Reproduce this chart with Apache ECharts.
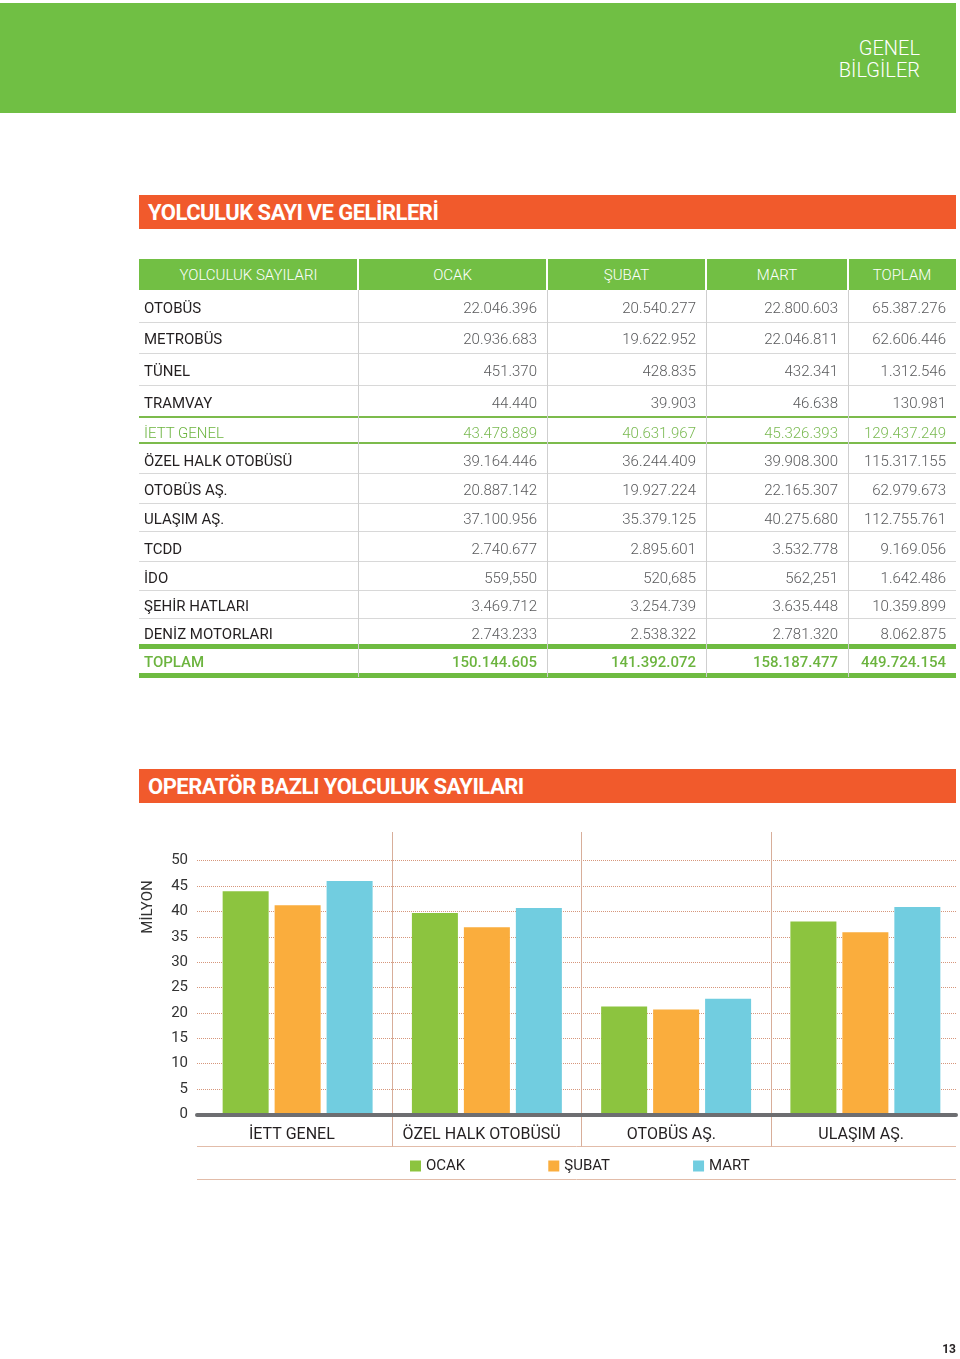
<!DOCTYPE html>
<html>
<head>
<meta charset="utf-8">
<script src="https://cdn.jsdelivr.net/npm/echarts@6/dist/echarts.min.js"></script>
<style>
  html, body { margin:0; padding:0; background:#fff; }
  body { width:960px; height:1359px; position:relative; overflow:hidden; font-family: Roboto, "Noto Sans", sans-serif; }
  #chart { position:absolute; left:0; top:0; width:960px; height:1359px; }
  .abs { position:absolute; }
  .hdr { left:0; top:3px; width:956px; height:110px; background:#70bf44; }
  .hdrtxt { right:40px; top:37px; color:#fff; font-weight:300; font-size:20px; line-height:22px; text-align:right; }
  .obar { left:139px; width:817px; height:34px; background:#f15a2c; color:#fff; font-weight:700; font-size:22px; line-height:36px; letter-spacing:-0.5px; box-sizing:border-box; padding-left:9px; }
  .cell { height:20px; line-height:20px; font-size:15px; white-space:nowrap; }
  .pg { right:4px; top:1342px; font-size:12px; font-weight:700; color:#231f20; }
</style>
</head>
<body>
<div id="chart"></div>
<div id="page"></div>
<script>
// ---------- DATA ----------
const pageTitle = ['GENEL', 'BİLGİLER'];
const tableTitle = 'YOLCULUK SAYI VE GELİRLERİ';
const chartTitle = 'OPERATÖR BAZLI YOLCULUK SAYILARI';
const tableHeaders = ['YOLCULUK SAYILARI', 'OCAK', 'ŞUBAT', 'MART', 'TOPLAM'];
const rowLabels = ['OTOBÜS','METROBÜS','TÜNEL','TRAMVAY','İETT GENEL','ÖZEL HALK OTOBÜSÜ','OTOBÜS AŞ.','ULAŞIM AŞ.','TCDD','İDO','ŞEHİR HATLARI','DENİZ MOTORLARI','TOPLAM'];
const ocakCol = ['22.046.396','20.936.683','451.370','44.440','43.478.889','39.164.446','20.887.142','37.100.956','2.740.677','559,550','3.469.712','2.743.233','150.144.605'];
const subatCol = ['20.540.277','19.622.952','428.835','39.903','40.631.967','36.244.409','19.927.224','35.379.125','2.895.601','520,685','3.254.739','2.538.322','141.392.072'];
const martCol = ['22.800.603','22.046.811','432.341','46.638','45.326.393','39.908.300','22.165.307','40.275.680','3.532.778','562,251','3.635.448','2.781.320','158.187.477'];
const toplamCol = ['65.387.276','62.606.446','1.312.546','130.981','129.437.249','115.317.155','62.979.673','112.755.761','9.169.056','1.642.486','10.359.899','8.062.875','449.724.154'];

const categories = ['İETT GENEL', 'ÖZEL HALK OTOBÜSÜ', 'OTOBÜS AŞ.', 'ULAŞIM AŞ.'];
const seriesNames = ['OCAK', 'ŞUBAT', 'MART'];
const barOcak = [44.0, 39.7, 21.3, 38.0];
const barSubat = [41.2, 36.9, 20.7, 35.9];
const barMart = [46.0, 40.7, 22.8, 40.9];
const yAxisName = 'MİLYON';
const yMin = 0, yMax = 50, yStep = 5;
const pageNumber = '13';

// ---------- PAGE (header + table) ----------
const page = document.getElementById('page');
function add(cls, style, text) {
  const d = document.createElement('div');
  d.className = 'abs ' + cls;
  Object.assign(d.style, style);
  if (text !== undefined) d.textContent = text;
  page.appendChild(d);
  return d;
}
add('hdr', {});
add('hdrtxt', {}).innerHTML = pageTitle.join('<br>');
add('obar', { top: '195px' }, tableTitle);
add('obar', { top: '769px' }, chartTitle);
add('pg', {}, pageNumber);

const colEdges = [139, 358, 547, 706, 848, 956];
const GREEN = '#72bf44';
// header row
add('', { left: '139px', top: '259px', width: '817px', height: '31px', background: GREEN });
tableHeaders.forEach((h, i) => {
  add('cell', { left: colEdges[i] + 'px', width: (colEdges[i+1] - colEdges[i]) + 'px', top: '264.5px',
    textAlign: 'center', color: '#fff', fontWeight: '300' }, h);
});
for (let i = 1; i < 5; i++) {
  add('', { left: (colEdges[i] - 1) + 'px', top: '259px', width: '2px', height: '31px', background: '#fff' });
}
// body separators
[321.5, 352.5, 384.5, 473, 502.5, 530.5, 560.5, 589.5, 618].forEach(y => {
  add('', { left: '139px', top: y + 'px', width: '817px', height: '1px', background: '#d8d8d8' });
});
[415.5, 442].forEach(y => {
  add('', { left: '139px', top: y + 'px', width: '817px', height: '2px', background: '#7cbb4c' });
});
[644, 673].forEach(y => {
  add('', { left: '139px', top: y + 'px', width: '817px', height: '4.5px', background: '#6fbb41' });
});
for (let i = 1; i < 5; i++) {
  add('', { left: colEdges[i] + 'px', top: '290px', width: '1px', height: '387px', background: '#cfcfcf' });
}
const textY = [308, 339, 371, 403, 432.5, 461, 490, 519, 548.5, 578, 606, 633.5, 661.5];
const cols = [ocakCol, subatCol, martCol, toplamCol];
rowLabels.forEach((lab, r) => {
  const isIett = r === 4, isTot = r === rowLabels.length - 1;
  const top = (textY[r] - 10) + 'px';
  add('cell', { left: '144px', top,
    color: (isIett || isTot) ? '#6cb43f' : '#231f20',
    fontWeight: isTot ? '500' : (isIett ? '300' : '400') }, lab);
  cols.forEach((col, c) => {
    add('cell', { left: colEdges[c+1] + 'px', width: (colEdges[c+2] - colEdges[c+1] - 10) + 'px', top,
      textAlign: 'right',
      color: isTot ? '#6cb43f' : (isIett ? '#7aba52' : '#58595b'),
      fontWeight: isTot ? '500' : '300' }, col[r]);
  });
});

// ---------- CHART ----------
const H = 1359;
const zeroY = 1114.5, topY = 860.7;
const chart = echarts.init(document.getElementById('chart'), null, { renderer: 'canvas' });
const FONT = 'Roboto';
chart.setOption({
  animation: false,
  textStyle: { fontFamily: FONT },
  grid: [
    { left: 203, right: 0, top: topY, bottom: H - zeroY },
    { left: 197, right: 4, top: topY, bottom: H - zeroY },
    { left: 203, right: 0, top: 832, bottom: H - 1146.5 }
  ],
  xAxis: [
    { type: 'category', gridIndex: 0, data: categories, show: false },
    { type: 'category', gridIndex: 1, data: categories, z: 5,
      axisLine: { show: true, lineStyle: { color: '#6d6e71', width: 4 } },
      axisTick: { show: false },
      axisLabel: { interval: 0, margin: 12, fontSize: 16, color: '#231f20', fontFamily: FONT },
      splitLine: { show: false } },
    { type: 'value', gridIndex: 2, min: 0, max: categories.length, interval: 1,
      axisLine: { show: false }, axisTick: { show: false }, axisLabel: { show: false },
      splitLine: { show: true, showMinLine: false, showMaxLine: false, lineStyle: { color: '#d8ae9a', width: 1 } } }
  ],
  yAxis: [
    { type: 'value', gridIndex: 0, min: yMin, max: yMax, interval: yStep, show: false },
    { type: 'value', gridIndex: 1, min: yMin, max: yMax, interval: yStep,
      axisLine: { show: false }, axisTick: { show: false },
      axisLabel: { margin: 9, fontSize: 15, color: '#333', fontFamily: FONT },
      splitLine: { show: true, showMinLine: false, lineStyle: { type: 'dotted', color: '#d6967b', width: 1 } } },
    { type: 'value', gridIndex: 2, min: 0, max: 1, show: false }
  ],
  legend: {
    data: seriesNames, left: 410, top: 1158.5, padding: 0, icon: 'rect', itemWidth: 11, itemHeight: 11, itemGap: 83,
    textStyle: { fontSize: 15, color: '#231f20', fontFamily: FONT }
  },
  series: [
    { name: seriesNames[0], type: 'bar', xAxisIndex: 0, yAxisIndex: 0, data: barOcak, barWidth: 46, barGap: '13%', itemStyle: { color: '#8cc43f' } },
    { name: seriesNames[1], type: 'bar', xAxisIndex: 0, yAxisIndex: 0, data: barSubat, barWidth: 46, barGap: '13%', itemStyle: { color: '#faad3d' } },
    { name: seriesNames[2], type: 'bar', xAxisIndex: 0, yAxisIndex: 0, data: barMart, barWidth: 46, barGap: '13%', itemStyle: { color: '#71cde0' } }
  ],
  graphic: [
    { type: 'text', x: 148, y: 907, rotation: Math.PI / 2,
      style: { text: yAxisName, fill: '#333', font: '15px ' + FONT, textAlign: 'center', textVerticalAlign: 'middle' } },
    { type: 'line', shape: { x1: 197, y1: 1146.5, x2: 956, y2: 1146.5 }, style: { stroke: '#e2bca9', lineWidth: 1 } },
    { type: 'line', shape: { x1: 197, y1: 1179.5, x2: 956, y2: 1179.5 }, style: { stroke: '#e2bca9', lineWidth: 1 } }
  ]
});
</script>
</body>
</html>
